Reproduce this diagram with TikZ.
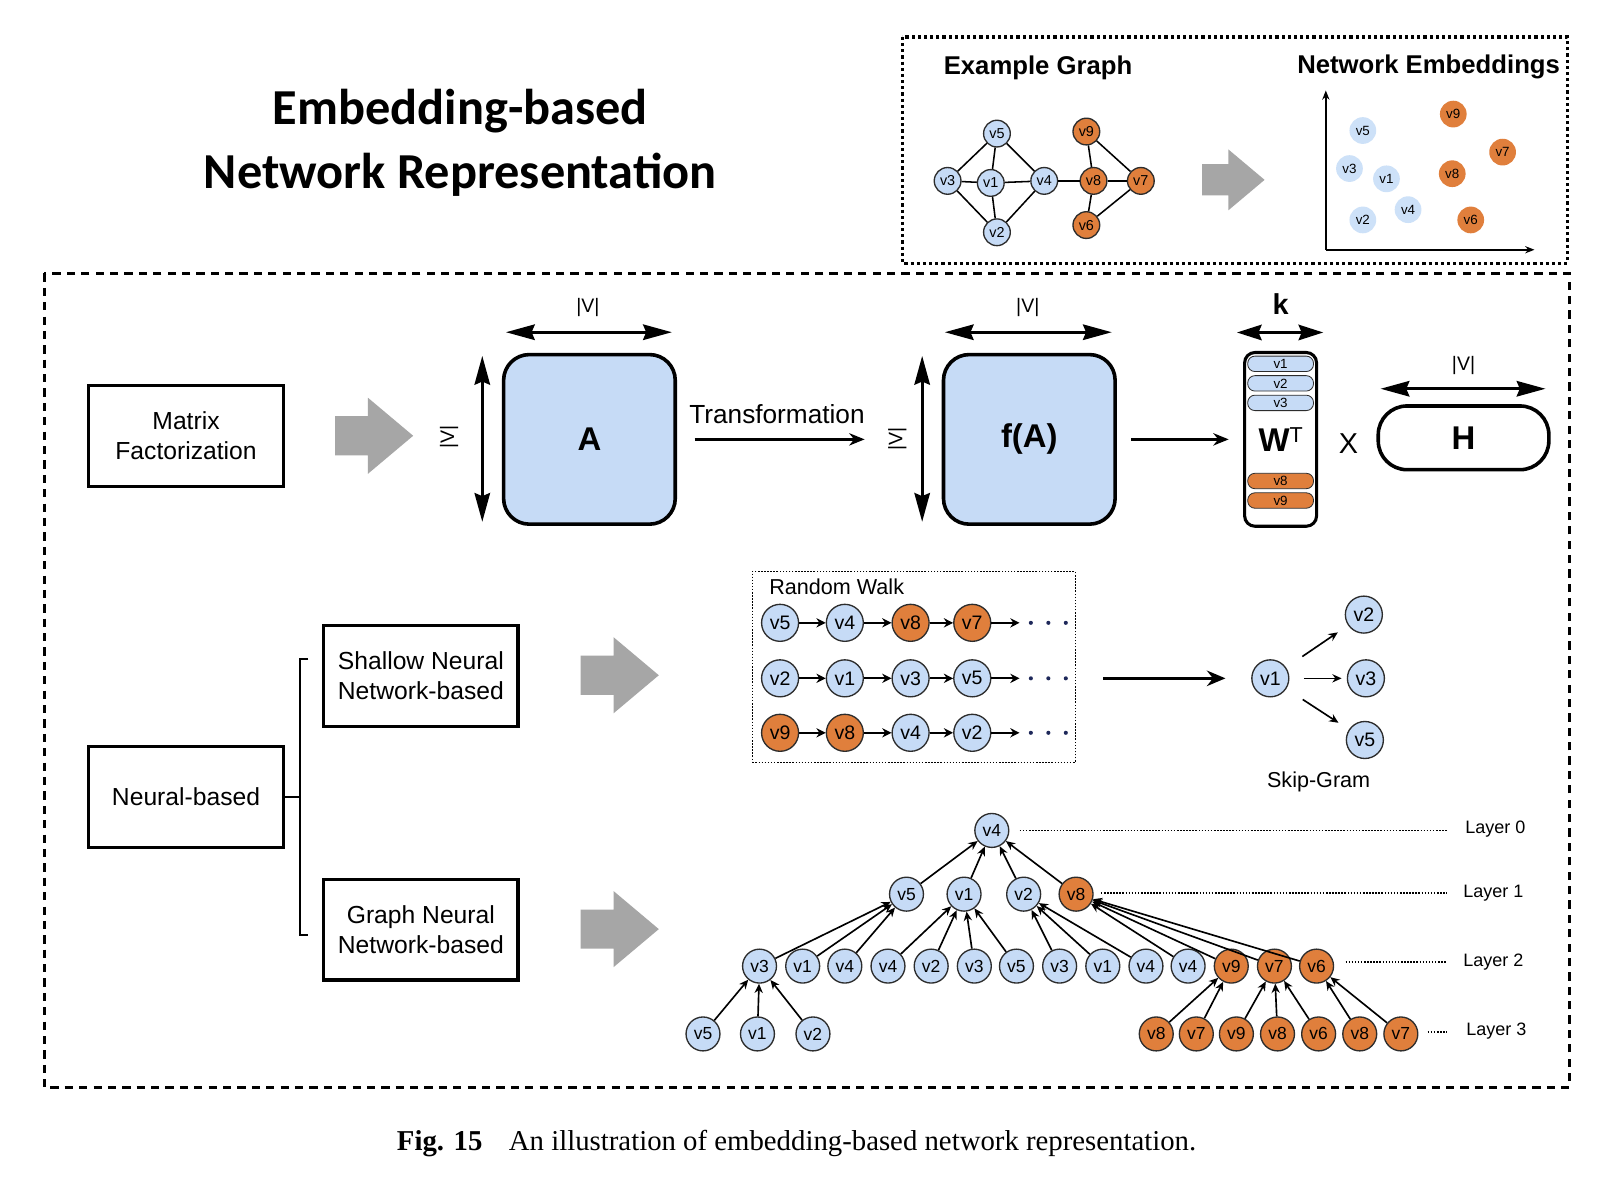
\documentclass[tikz,border=0pt]{standalone}
\usepackage{fontspec}
\setmainfont{Liberation Sans}
\newfontfamily\titlefont{Carlito}
\newfontfamily\capfont{Liberation Serif}
\usetikzlibrary{arrows.meta,shapes.geometric}
\newcommand{\fsz}[2]{\fontsize{#1}{#2}\selectfont}
\definecolor{nblue}{RGB}{198,219,246}
\definecolor{eblue}{RGB}{205,225,248}
\definecolor{norange}{RGB}{224,127,60}
\definecolor{agray}{RGB}{166,166,166}
\definecolor{dotnavy}{RGB}{30,40,90}
\definecolor{nborder}{RGB}{45,45,45}
\tikzset{
  blockarr/.pic={\fill[agray] (-38,-19) -- (-6,-19) -- (-6,-37) -- (38,0) -- (-6,37) -- (-6,19) -- (-38,19) -- cycle;},
  egnode/.style={circle, draw=nborder, line width=1.3pt, inner sep=0pt, minimum size=26pt, font=\fsz{14}{16}},
  egb/.style={egnode, fill=nblue},
  ego/.style={egnode, fill=norange},
  emb/.style={circle, inner sep=0pt, minimum size=26pt, font=\fsz{13}{15}, fill=eblue},
  emo/.style={circle, inner sep=0pt, minimum size=26pt, font=\fsz{13}{15}, fill=norange},
  egedge/.style={line width=1.5pt, black},
  rwnode/.style={circle, draw=nborder, line width=1.3pt, inner sep=0pt, minimum size=36pt, font=\fsz{19}{21}},
  rwb/.style={rwnode, fill=nblue},
  rwo/.style={rwnode, fill=norange},
  trnode/.style={circle, draw=nborder, line width=1.3pt, inner sep=0pt, minimum size=33pt, font=\fsz{17}{19}},
  trb/.style={trnode, fill=nblue},
  tro/.style={trnode, fill=norange},
  rwarr/.style={line width=2pt, -{Stealth[length=9pt,width=9pt]}},
  trarr/.style={line width=1.6pt, -{Stealth[length=9pt,width=8pt]}},
  dimarr/.style={line width=3pt, {Stealth[length=28pt,width=15pt,inset=3pt]}-{Stealth[length=28pt,width=15pt,inset=3pt]}},
  catbox/.style={draw, line width=3pt, minimum width=190pt, minimum height=98pt, align=center, font=\fsz{24}{29}},
  matbox/.style={draw, line width=3.5pt, fill=nblue, rounded corners=25pt, minimum width=167pt, minimum height=165pt, font=\bfseries\fsz{32}{36}},
  wrow/.style={draw=nborder, line width=0.8pt, rounded corners=7pt, minimum width=64pt, minimum height=15pt, inner sep=0pt, font=\fsz{13}{13}},
  dimlab/.style={font=\fsz{19}{21}},
  layerline/.style={line width=1.3pt, dash pattern=on 1.5pt off 1.5pt},
  layerlab/.style={font=\fsz{17.5}{19}},
}
\begin{document}
\begin{tikzpicture}[x=1pt,y=-1pt]
\path[fill=white] (0,0) rectangle (1566.5,1155.9);
\useasboundingbox (0,0) rectangle (1566.5,1155.9);

% ---------- title ----------
\node[font=\titlefont\bfseries\fsz{49}{62}, align=center] (title) at (448,139) {Embedding-based\\Network Representation};

% ---------- top-right example box ----------
\draw[line width=3pt, dash pattern=on 3pt off 3pt] (878,36) rectangle (1525,256);
\node[font=\bfseries\fsz{25}{28}] (eglab) at (1010,66) {Example Graph};
\node[font=\bfseries\fsz{25}{28}] (nelab) at (1390,65) {Network Embeddings};

\node[egb] (g5) at (970,130) {v5};
\node[ego] (g9) at (1057,128) {v9};
\node[egb] (g3) at (922,176) {v3};
\node[egb] (g1) at (964,178) {v1};
\node[egb] (g4) at (1016,176) {v4};
\node[ego] (g8) at (1064,176) {v8};
\node[ego] (g7) at (1110,176) {v7};
\node[egb] (g2) at (970,226) {v2};
\node[ego] (g6) at (1057,219) {v6};
\foreach \a/\b in {g5/g3,g5/g1,g5/g4,g3/g1,g3/g2,g1/g4,g1/g2,g4/g2,g4/g8,g9/g8,g9/g7,g8/g7,g8/g6,g7/g6}
  \draw[egedge] (\a) -- (\b);

\pic[scale=0.8] at (1200,175) {blockarr};

\coordinate (origin) at (1290,243);
\coordinate (yend) at (1290,88);
\coordinate (xend) at (1493,243);
\draw[line width=1.6pt, -{Stealth[length=9pt,width=7pt]}] (origin) -- (yend);
\draw[line width=1.6pt, -{Stealth[length=9pt,width=7pt]}] (origin) -- (xend);
\node[emb] (e5) at (1326,127) {v5};
\node[emo] (e9) at (1414,111) {v9};
\node[emb] (e3) at (1313,164) {v3};
\node[emb] (e1) at (1349,174) {v1};
\node[emo] (e7) at (1462,148) {v7};
\node[emo] (e8) at (1413,169) {v8};
\node[emb] (e2) at (1326,214) {v2};
\node[emb] (e4) at (1370,204) {v4};
\node[emo] (e6) at (1431,214) {v6};

% ---------- main dashed box ----------
\draw[line width=3pt, dash pattern=on 8pt off 6pt] (43,266) rectangle (1527,1058);

% ---------- matrix factorization row ----------
\node[catbox] (mf) at (181,424) {Matrix\\Factorization};
\pic at (364,424) {blockarr};

\node[matbox] (A) at (573.5,427.5) {A};
\node[dimlab, rotate=90] (vA) at (437,425) {|V|};
\draw[dimarr] ([shift={(-19,3)}]A.north west) -- ([shift={(-19,-4)}]A.south west);
\draw[dimarr] ([shift={(4,-20)}]A.north west) -- ([shift={(-5,-20)}]A.north east);
\node[dimlab] (hA) at (572,299) {|V|};

\node[matbox] (fA) at (1001.5,427.5) {f(A)};
\node[dimlab, rotate=90] (vfA) at (873,427) {|V|};
\draw[dimarr] ([shift={(-19,3)}]fA.north west) -- ([shift={(-19,-4)}]fA.south west);
\draw[dimarr] ([shift={(3,-20)}]fA.north west) -- ([shift={(-5,-20)}]fA.north east);
\node[dimlab] (hfA) at (1000,299) {|V|};

\draw[line width=2.5pt, -{Stealth[length=15pt,width=12pt]}, shorten <=17pt, shorten >=75pt] (A.east) -- (fA.west);
\node[font=\fsz{25.5}{28}] (trans) at (756,403) {Transformation};

\node[draw, line width=3pt, rounded corners=10pt, minimum width=70pt, minimum height=169pt, inner sep=0pt, font=\bfseries\fsz{32}{36}] (W) at (1246,427.5) {W\raisebox{0.55ex}{\mdseries\fsz{21}{21}T}};
\node[wrow, fill=nblue] (w1) at (1246,354) {v1};
\node[wrow, fill=nblue] (w2) at (1246,373) {v2};
\node[wrow, fill=nblue] (w3) at (1246,392) {v3};
\node[wrow, fill=norange] (w8) at (1246,468) {v8};
\node[wrow, fill=norange] (w9) at (1246,487) {v9};
\draw[line width=2.5pt, -{Stealth[length=15pt,width=12pt]}, shorten <=14pt, shorten >=14pt] (fA.east |- W.west) -- (W.west);
\draw[dimarr, {Stealth[length=24pt,width=15pt,inset=3pt]}-{Stealth[length=24pt,width=15pt,inset=3pt]}] ([shift={(-6,-18)}]W.north west) -- ([shift={(5,-18)}]W.north east);
\node[font=\bfseries\fsz{28}{30}] (k) at (1246,296) {k};

\node[font=\fsz{28}{30}] (times) at (1312,432) {X};
\node[draw, line width=3.5pt, rounded corners=28pt, minimum width=166pt, minimum height=62pt, font=\bfseries\fsz{32}{36}] (H) at (1424,426) {H};
\draw[dimarr] ([shift={(4,-15)}]H.north west) -- ([shift={(-5,-15)}]H.north east);
\node[dimlab] (hH) at (1424,356) {|V|};

% ---------- neural-based ----------
\node[catbox] (nb) at (181,775.5) {Neural-based};
\node[catbox, minimum width=189pt] (snn) at (409.5,657.5) {Shallow Neural\\Network-based};
\node[catbox, minimum width=189pt] (gnn) at (409.5,904.5) {Graph Neural\\Network-based};
\coordinate (bt) at (300,641);
\coordinate (bb) at (300,910);
\coordinate (bm) at (292,775.5);
\draw[line width=1.6pt] (bt) -- ++(-8,0) |- (bb);
\draw[line width=1.6pt] (nb.east) -- (bm);
\pic at (603,657) {blockarr};
\pic at (603,904) {blockarr};

% ---------- random walk ----------
\node[draw, line width=1pt, dash pattern=on 1.5pt off 1.5pt, minimum width=314pt, minimum height=186pt, inner sep=0pt] (rwbox) at (889,649) {};
\node[anchor=west, font=\fsz{21}{23}] (rwlab) at (745,571) {Random Walk};

\node[rwb] (a1) at (759,606) {v5};
\node[rwb] (a2) at (822,606) {v4};
\node[rwo] (a3) at (886,606) {v8};
\node[rwo] (a4) at (946,606) {v7};
\coordinate (ae) at (992,606);
\node[rwb] (b1) at (759,660) {v2};
\node[rwb] (b2) at (822,660) {v1};
\node[rwb] (b3) at (886,660) {v3};
\node[rwb] (b4) at (946,660) {v5};
\coordinate (be) at (992,660);
\node[rwo] (c1) at (759,713) {v9};
\node[rwo] (c2) at (822,713) {v8};
\node[rwb] (c3) at (886,713) {v4};
\node[rwb] (c4) at (946,713) {v2};
\coordinate (ce) at (992,713);
\foreach \r in {a,b,c}{
  \draw[rwarr] (\r1) -- (\r2);
  \draw[rwarr] (\r2) -- (\r3);
  \draw[rwarr] (\r3) -- (\r4);
  \draw[rwarr] (\r4) -- (\r e);
}
\foreach \y in {606,660,713}{
  \foreach \x in {1003,1020,1037}
    \fill[dotnavy] (\x,\y) circle (2);
}

% ---------- skip-gram ----------
\node[rwb] (s1) at (1236,660) {v1};
\node[rwb] (s2) at (1327,598) {v2};
\node[rwb] (s3) at (1329,660) {v3};
\node[rwb] (s5) at (1328,720) {v5};
\draw[line width=3.5pt, -{Stealth[length=18pt,width=15pt]}, shorten <=27pt, shorten >=25pt] (rwbox.east |- s1.west) -- (s1.west);
\draw[line width=1.6pt, -{Stealth[length=9pt,width=8pt]}, shorten <=19pt, shorten >=12pt] (s1) -- (s2);
\draw[line width=1.6pt, -{Stealth[length=9pt,width=8pt]}, shorten <=14pt, shorten >=5pt] (s1) -- (s3);
\draw[line width=1.6pt, -{Stealth[length=9pt,width=8pt]}, shorten <=19pt, shorten >=12pt] (s1) -- (s5);
\node[font=\fsz{21}{23}] (sglab) at (1283,761) {Skip-Gram};

% ---------- GNN tree ----------
\node[trb] (t0) at (965,808) {v4};
\node[trb] (t11) at (882,870) {v5};
\node[trb] (t12) at (938,870) {v1};
\node[trb] (t13) at (996,870) {v2};
\node[tro] (t14) at (1047,870) {v8};

\node[trb] (u1) at (739,940) {v3};
\node[trb] (u2) at (781,940) {v1};
\node[trb] (u3) at (822,940) {v4};
\node[trb] (u4) at (864,940) {v4};
\node[trb] (u5) at (906,940) {v2};
\node[trb] (u6) at (948,940) {v3};
\node[trb] (u7) at (989,940) {v5};
\node[trb] (u8) at (1031,940) {v3};
\node[trb] (u9) at (1073,940) {v1};
\node[trb] (u10) at (1115,940) {v4};
\node[trb] (u11) at (1156,940) {v4};
\node[tro] (u12) at (1198,940) {v9};
\node[tro] (u13) at (1240,940) {v7};
\node[tro] (u14) at (1281,940) {v6};

\node[trb] (w31) at (684,1006) {v5};
\node[trb] (w32) at (737,1006) {v1};
\node[trb] (w33) at (791,1006) {v2};
\node[tro] (w34) at (1125,1006) {v8};
\node[tro] (w35) at (1164,1006) {v7};
\node[tro] (w36) at (1203,1006) {v9};
\node[tro] (w37) at (1243,1006) {v8};
\node[tro] (w38) at (1283,1006) {v6};
\node[tro] (w39) at (1323,1006) {v8};
\node[tro] (w310) at (1363,1006) {v7};

\foreach \c/\p in {t11/t0,t12/t0,t13/t0,t14/t0,
  u1/t11,u2/t11,u3/t11,
  u4/t12,u5/t12,u6/t12,u7/t12,
  u8/t13,u9/t13,u10/t13,
  u11/t14,u12/t14,u13/t14,u14/t14,
  w31/u1,w32/u1,w33/u1,
  w34/u12,w35/u12,
  w36/u13,w37/u13,w38/u13,
  w39/u14,w310/u14}
  \draw[trarr] (\c) -- (\p);

\coordinate (l0) at (1408,808);
\coordinate (l1) at (1408,869);
\coordinate (l2) at (1408,936);
\coordinate (l3) at (1408,1004);
\draw[layerline] ([xshift=10pt]t0.east) -- (l0);
\draw[layerline] ([xshift=7pt]t14.east |- l1) -- (l1);
\draw[layerline] ([xshift=11pt]u14.east |- l2) -- (l2);
\draw[layerline] ([xshift=9pt]w310.east |- l3) -- (l3);
\node[layerlab] (L0) at (1455,807) {Layer 0};
\node[layerlab] (L1) at (1453,869) {Layer 1};
\node[layerlab] (L2) at (1453,936) {Layer 2};
\node[layerlab] (L3) at (1456,1003) {Layer 3};

% ---------- caption ----------
\node[anchor=west, inner sep=0pt, font=\capfont\bfseries\fsz{28}{32}] (figl) at (386,1113) {Fig. 15};
\node[anchor=west, inner sep=0pt, font=\capfont\fsz{28}{32}] (capt) at (495,1113) {An illustration of embedding-based network representation.};
\end{tikzpicture}
\end{document}
